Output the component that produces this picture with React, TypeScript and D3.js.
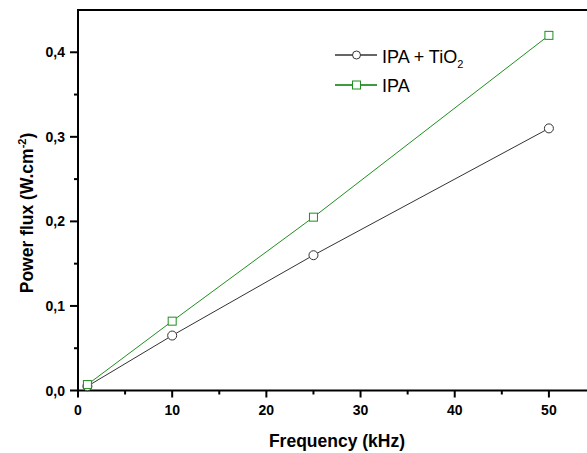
import React from "react";
import * as d3 from "d3";

const frequencies = [1, 10, 25, 50];
const ipaTiO2 = [0.005, 0.065, 0.16, 0.31];
const ipa = [0.007, 0.082, 0.205, 0.42];
const xMajorTicks = [0, 10, 20, 30, 40, 50];
const xMinorTicks = [5, 15, 25, 35, 45];
const yMajorTicks = [0, 0.1, 0.2, 0.3, 0.4];
const yMinorTicks = [0.05, 0.15, 0.25, 0.35];

const W = 587;
const H = 453;
const left = 78;
const top = 10;
const right = 596;
const bottom = 390.5;

export default function App() {
  const x = d3.scaleLinear().domain([0, 55]).range([left, right]);
  const y = d3.scaleLinear().domain([0, 0.45]).range([bottom, top]);
  const line = d3
    .line<[number, number]>()
    .x((d) => x(d[0]))
    .y((d) => y(d[1]));
  const s1 = frequencies.map((f, i) => [f, ipaTiO2[i]] as [number, number]);
  const s2 = frequencies.map((f, i) => [f, ipa[i]] as [number, number]);
  const font = "'Liberation Sans', Arial, sans-serif";
  const green = "#1f8f1f";
  const dark = "#333333";
  const fmt = (v: number) => v.toFixed(1).replace(".", ",");

  return (
    <svg
      width={W}
      height={H}
      style={{ position: "absolute", left: 0, top: 0, background: "#fff" }}
      fontFamily={font}
    >
      <rect x={0} y={0} width={W} height={H} fill="#fff" />
      {/* frame */}
      <line x1={left} x2={right} y1={top} y2={top} stroke="#000" strokeWidth={2} />
      <line x1={left} x2={right} y1={bottom} y2={bottom} stroke="#000" strokeWidth={2} />
      <line x1={left} x2={left} y1={top - 1} y2={bottom + 1} stroke="#000" strokeWidth={2} />
      {/* x ticks */}
      {xMajorTicks.map((t) => (
        <g key={"xm" + t}>
          <line x1={x(t)} x2={x(t)} y1={bottom} y2={bottom + 7} stroke="#000" strokeWidth={2} />
          <text x={x(t)} y={415} textAnchor="middle" fontSize={14} fontWeight="bold" fill="#000">
            {t}
          </text>
        </g>
      ))}
      {xMinorTicks.map((t) => (
        <line key={"xn" + t} x1={x(t)} x2={x(t)} y1={bottom} y2={bottom + 4} stroke="#000" strokeWidth={2} />
      ))}
      {/* y ticks */}
      {yMajorTicks.map((t) => (
        <g key={"ym" + t}>
          <line x1={left - 8} x2={left} y1={y(t)} y2={y(t)} stroke="#000" strokeWidth={2} />
          <text x={65} y={y(t) + 5} textAnchor="end" fontSize={14} fontWeight="bold" fill="#000">
            {fmt(t)}
          </text>
        </g>
      ))}
      {yMinorTicks.map((t) => (
        <line key={"yn" + t} x1={left - 4} x2={left} y1={y(t)} y2={y(t)} stroke="#000" strokeWidth={2} />
      ))}
      {/* axis titles */}
      <text x={337} y={447} textAnchor="middle" fontSize={17.5} fontWeight="bold" fill="#000">
        Frequency (kHz)
      </text>
      <text
        transform="translate(33,213) rotate(-90)"
        textAnchor="middle"
        fontSize={17.5}
        fontWeight="bold"
        fill="#000"
      >
        Power flux (W.cm
        <tspan fontSize={11} dy={-7}>-2</tspan>
        <tspan dy={7}>)</tspan>
      </text>
      {/* series lines */}
      <path d={line(s1) || ""} fill="none" stroke={dark} strokeWidth={1} />
      <path d={line(s2) || ""} fill="none" stroke={green} strokeWidth={1} />
      {s1.map((d, i) => (
        <circle key={"c" + i} cx={x(d[0])} cy={y(d[1])} r={4.5} fill="#fff" stroke={dark} strokeWidth={1} />
      ))}
      {s2.map((d, i) => (
        <rect
          key={"s" + i}
          x={x(d[0]) - 4}
          y={y(d[1]) - 4}
          width={8}
          height={8}
          fill="#fff"
          stroke={green}
          strokeWidth={1}
        />
      ))}
      {/* legend */}
      <line x1={335} x2={377} y1={55} y2={55} stroke={dark} strokeWidth={1.3} />
      <circle cx={356.5} cy={55} r={4} fill="#fff" stroke={dark} strokeWidth={1} />
      <text x={382} y={62.5} fontSize={18} fill="#000">
        IPA + TiO
        <tspan fontSize={11} dy={5.5}>2</tspan>
      </text>
      <line x1={335} x2={377} y1={85} y2={85} stroke="#007a00" strokeWidth={1.3} />
      <rect x={352.5} y={81} width={8} height={8} fill="#fff" stroke={green} strokeWidth={1} />
      <text x={382} y={92} fontSize={18} fill="#000">
        IPA
      </text>
    </svg>
  );
}
